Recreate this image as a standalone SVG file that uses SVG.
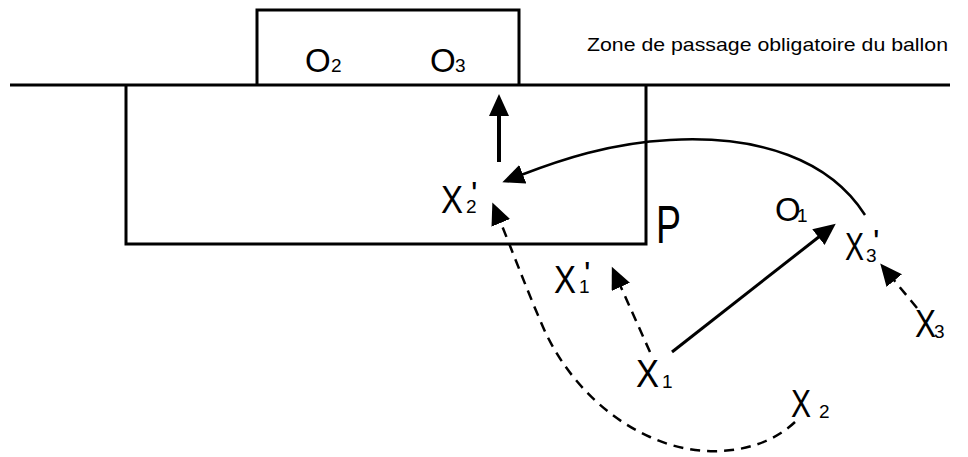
<svg xmlns="http://www.w3.org/2000/svg" width="968" height="457" viewBox="0 0 968 457">
<style>
.frame{fill:none;stroke:#000;stroke-width:3}
.conn{fill:none;stroke:#000;stroke-width:2.5}
.dash{stroke-dasharray:10 7}
.lbl{font-family:"Liberation Sans",Arial,sans-serif;font-size:38px;fill:#000}
.o{font-size:33px}
.sub{font-size:19px}
.pr{font-size:34px}
.cap{font-family:"Liberation Sans",Arial,sans-serif;font-size:19px;fill:#000}
</style>
<defs>
<marker id="ah" markerUnits="userSpaceOnUse" markerWidth="24" markerHeight="22" refX="2" refY="10" orient="auto">
<path d="M0,0 L22,10 L0,20 z" fill="#000"/>
</marker>
</defs>
<rect width="968" height="457" fill="#fff"/>
<g id="field">
<line x1="10" y1="85" x2="950" y2="85" class="frame"/>
<path d="M257,85 V10 H519 V85" class="frame"/>
<path d="M126,85 V244 H646 V85" class="frame"/>
<text x="587" y="51" class="cap" textLength="361" lengthAdjust="spacingAndGlyphs">Zone de passage obligatoire du ballon</text>
</g>
<g id="O2"><text class="lbl o"><tspan x="305" y="72">O</tspan><tspan x="331" y="72" class="sub">2</tspan></text></g>
<g id="O3"><text class="lbl o"><tspan x="430" y="72">O</tspan><tspan x="455" y="72" class="sub">3</tspan></text></g>
<g id="P"><text x="656" y="243" class="lbl" style="font-size:54px" textLength="25" lengthAdjust="spacingAndGlyphs">P</text></g>
<g id="X2p"><text class="lbl"><tspan x="441" y="213" textLength="22" lengthAdjust="spacingAndGlyphs">X</tspan><tspan x="466" y="213" class="sub">2</tspan><tspan x="471" y="205" class="pr">'</tspan></text></g>
<g id="X1p"><text class="lbl"><tspan x="554" y="293" textLength="22" lengthAdjust="spacingAndGlyphs">X</tspan><tspan x="579" y="293" class="sub">1</tspan><tspan x="584" y="285" class="pr">'</tspan></text></g>
<g id="X1"><text class="lbl"><tspan x="636" y="387" textLength="23" lengthAdjust="spacingAndGlyphs">X</tspan><tspan x="662" y="388" class="sub">1</tspan></text></g>
<g id="X2"><text class="lbl"><tspan x="791" y="417" textLength="20" lengthAdjust="spacingAndGlyphs">X</tspan><tspan x="819" y="418" class="sub">2</tspan></text></g>
<g id="X3p"><text class="lbl"><tspan x="845" y="260" textLength="19" lengthAdjust="spacingAndGlyphs">X</tspan><tspan x="866" y="262" class="sub">3</tspan><tspan x="873" y="253" class="pr">'</tspan></text></g>
<g id="X3"><text class="lbl"><tspan x="915" y="337" textLength="21" lengthAdjust="spacingAndGlyphs">X</tspan><tspan x="934" y="338" class="sub">3</tspan></text></g>
<g id="O1"><text class="lbl o"><tspan x="775" y="221">O</tspan><tspan x="797" y="222" class="sub">1</tspan></text></g>
<g id="connectors">
<line x1="499" y1="162" x2="499" y2="114" class="conn" style="stroke-width:4" marker-end="url(#ah)"/>
<path d="M865,215 C830,160 760,135 670,140 C610,143 560,160 521,175" class="conn" marker-end="url(#ah)"/>
<path d="M795,422 C760,455 700,460 650,437 C600,415 560,370 540,320 C525,285 512,250 500,221" class="conn dash" marker-end="url(#ah)"/>
<line x1="650" y1="352" x2="620" y2="285" class="conn dash" marker-end="url(#ah)"/>
<line x1="672" y1="352" x2="820" y2="236" class="conn" style="stroke-width:3" marker-end="url(#ah)"/>
<line x1="917" y1="308" x2="893" y2="279" class="conn dash" marker-end="url(#ah)"/>
</g>
</svg>
